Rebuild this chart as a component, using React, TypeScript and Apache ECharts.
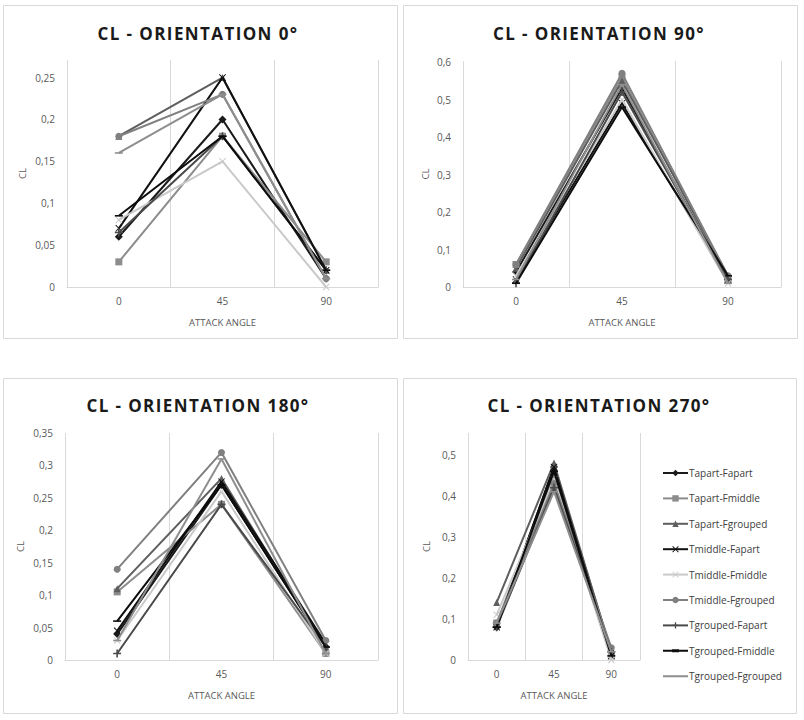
import React, { useEffect, useRef } from "react";
import * as echarts from "echarts";

const categories = ["0", "45", "90"];

const seriesNames = [
  "Tapart-Fapart",
  "Tapart-Fmiddle",
  "Tapart-Fgrouped",
  "Tmiddle-Fapart",
  "Tmiddle-Fmiddle",
  "Tmiddle-Fgrouped",
  "Tgrouped-Fapart",
  "Tgrouped-Fmiddle",
  "Tgrouped-Fgrouped",
];

const panelTitles = [
  "CL - ORIENTATION 0°",
  "CL - ORIENTATION 90°",
  "CL - ORIENTATION 180°",
  "CL - ORIENTATION 270°",
];

// CL values per series (rows follow seriesNames), at attack angles 0, 45, 90
const cl0: number[][] = [
  [0.06, 0.2, 0.01],
  [0.03, 0.18, 0.03],
  [0.18, 0.25, 0.02],
  [0.07, 0.25, 0.02],
  [0.08, 0.15, 0.0],
  [0.18, 0.23, 0.01],
  [0.065, 0.18, 0.02],
  [0.085, 0.18, 0.02],
  [0.16, 0.23, 0.01],
];

const cl90: number[][] = [
  [0.04, 0.53, 0.02],
  [0.06, 0.56, 0.02],
  [0.05, 0.55, 0.03],
  [0.02, 0.49, 0.02],
  [0.03, 0.5, 0.01],
  [0.06, 0.57, 0.03],
  [0.01, 0.52, 0.02],
  [0.01, 0.48, 0.03],
  [0.02, 0.54, 0.01],
];

const cl180: number[][] = [
  [0.04, 0.27, 0.02],
  [0.105, 0.24, 0.01],
  [0.11, 0.28, 0.02],
  [0.045, 0.275, 0.025],
  [0.03, 0.26, 0.01],
  [0.14, 0.32, 0.03],
  [0.01, 0.24, 0.02],
  [0.06, 0.27, 0.02],
  [0.03, 0.31, 0.01],
];

const cl270: number[][] = [
  [0.08, 0.47, 0.02],
  [0.09, 0.45, 0.01],
  [0.14, 0.48, 0.02],
  [0.08, 0.47, 0.01],
  [0.11, 0.44, 0.0],
  [0.09, 0.43, 0.03],
  [0.08, 0.42, 0.02],
  [0.08, 0.46, 0.01],
  [0.09, 0.41, 0.02],
];

const yMaxes = [0.271, 0.603, 0.35, 0.553];
const yIntervals = [0.05, 0.1, 0.05, 0.1];

const colors = [
  "#1a1a1a",
  "#8c8c8c",
  "#5e5e5e",
  "#111111",
  "#c9c9c9",
  "#808080",
  "#4a4a4a",
  "#0d0d0d",
  "#8e8e8e",
];

const X_SYM = "path://M1,0L5,4L9,0L10,1L6,5L10,9L9,10L5,6L1,10L0,9L4,5L0,1Z";
const PLUS_SYM = "path://M4,0H6V4H10V6H6V10H4V6H0V4H4Z";
const DASH_SYM = "path://M0,4H10V6H0Z";
// legend icons for the dash-marker series: a 25x8 box holding a 2px line
const LEG_LINE_DASH =
  "path://M0,0L0.01,0L0,0.01Z M25,8L24.99,8L25,7.99Z M0,3H25V5H0Z M9,2.5H16V5.5H9Z";
const LEG_LINE = "path://M0,0L0.01,0L0,0.01Z M25,8L24.99,8L25,7.99Z M0,3H25V5H0Z";

const symbols = [
  "diamond",
  "rect",
  "triangle",
  X_SYM,
  X_SYM,
  "circle",
  PLUS_SYM,
  DASH_SYM,
  DASH_SYM,
];
const symbolSizes = [8, 7, 7, 7, 7, 7, 8, 8, 8];

const grids = [
  { left: 67, top: 60, width: 311, height: 227 },
  { left: 463, top: 61, width: 318, height: 226 },
  { left: 65, top: 433, width: 313, height: 227 },
  { left: 468, top: 433, width: 172, height: 227 },
];
const yNameGaps = [40, 33, 40, 37];
const titlePos = [
  [198, 33],
  [599, 33],
  [198, 405],
  [599, 405],
];
const borders = [
  [3, 5, 394, 333],
  [403, 5, 394, 333],
  [3, 378, 394, 335],
  [403, 378, 393, 335],
];

const FONT = "'Open Sans', 'Noto Sans', sans-serif";

export default function App() {
  const ref = useRef<HTMLDivElement>(null);

  useEffect(() => {
    if (!ref.current) return;
    const chart = echarts.init(ref.current, undefined, { renderer: "svg" });
    const panels = [cl0, cl90, cl180, cl270];

    const xAxis = grids.map((_, i) => ({
      type: "category",
      gridIndex: i,
      data: categories,
      boundaryGap: true,
      axisTick: { show: false },
      axisLine: { lineStyle: { color: "#d9d9d9", width: 1 } },
      splitLine: { show: true, lineStyle: { color: "#d9d9d9", width: 1 } },
      axisLabel: { color: "#595959", fontSize: 10, fontFamily: FONT, margin: 9 },
      name: "ATTACK ANGLE",
      nameLocation: "middle",
      nameGap: 30,
      nameTextStyle: { color: "#595959", fontSize: 9.5, fontFamily: FONT },
    }));

    const yAxis = grids.map((_, i) => ({
      type: "value",
      gridIndex: i,
      min: 0,
      max: yMaxes[i],
      interval: yIntervals[i],
      axisLine: { show: false },
      axisTick: { show: false },
      splitLine: { show: false },
      axisLabel: {
        color: "#595959",
        fontSize: 10,
        fontFamily: FONT,
        margin: 12,
        formatter: (v: number) => {
          const k = v / yIntervals[i];
          if (Math.abs(k - Math.round(k)) > 1e-6) return "";
          return String(+v.toFixed(2)).replace(".", ",");
        },
      },
      name: "CL",
      nameLocation: "middle",
      nameGap: yNameGaps[i],
      nameRotate: 90,
      nameTextStyle: { color: "#595959", fontSize: 9.5, fontFamily: FONT },
    }));

    const series: any[] = [];
    panels.forEach((panel, p) => {
      panel.forEach((vals, s) => {
        series.push({
          type: "line",
          name: seriesNames[s],
          xAxisIndex: p,
          yAxisIndex: p,
          data: vals,
          symbol: symbols[s],
          symbolSize: symbolSizes[s],
          symbolKeepAspect: true,
          showSymbol: true,
          lineStyle: { color: colors[s], width: 2 },
          itemStyle: { color: colors[s], borderWidth: 0 },
          emphasis: { disabled: true },
          z: 2 + s,
        });
      });
    });

    const graphic: any[] = [];
    borders.forEach(([x, y, w, h]) => {
      graphic.push({
        type: "rect",
        shape: { x: x + 0.5, y: y + 0.5, width: w, height: h },
        style: { fill: "none", stroke: "#d9d9d9", lineWidth: 1 },
        silent: true,
        z: 0,
      });
    });
    panelTitles.forEach((t, i) => {
      graphic.push({
        type: "text",
        x: titlePos[i][0],
        y: titlePos[i][1],
        style: {
          text: t,
          fill: "#1a1a1a",
          font: `bold 17px ${FONT}`,
          textAlign: "center",
          textVerticalAlign: "middle",
        },
        silent: true,
      });
    });

    const legendData = seriesNames.map((n, i) => {
      if (i === 7) return { name: n, icon: LEG_LINE_DASH, itemStyle: { color: colors[i] } };
      if (i === 8) return { name: n, icon: LEG_LINE, itemStyle: { color: colors[i] } };
      return { name: n };
    });

    chart.setOption({
      animation: false,
      backgroundColor: "#ffffff",
      grid: grids.map((g) => ({ ...g, containLabel: false })),
      xAxis,
      yAxis,
      series,
      graphic,
      legend: {
        data: legendData,
        orient: "vertical",
        left: 662,
        top: 468,
        padding: 0,
        itemWidth: 25,
        itemHeight: 8,
        itemGap: 15.4,
        selectedMode: false,
        textStyle: { color: "#404040", fontSize: 10, fontFamily: FONT, padding: [0, 0, 0, -4] },
      },
    });

    const applySpacing = () => {
      const texts = ref.current?.querySelectorAll("text") || [];
      texts.forEach((el: any) => {
        if ((el.textContent || "").startsWith("CL - ORIENTATION")) {
          el.style.letterSpacing = "1.4px";
        }
      });
    };
    chart.getZr().refreshImmediately();
    applySpacing();
    chart.on("finished", applySpacing);

    return () => {
      chart.dispose();
    };
  }, []);

  return (
    <div
      ref={ref}
      style={{ position: "absolute", left: 0, top: 0, width: 804, height: 720, background: "#fff" }}
    />
  );
}
